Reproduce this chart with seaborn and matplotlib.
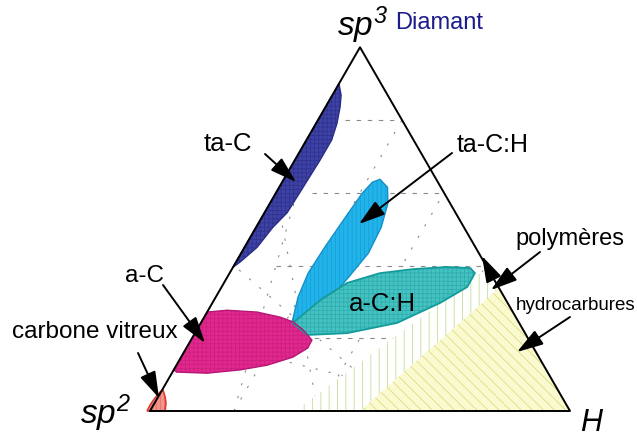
import numpy as np
import pandas as pd
import matplotlib
matplotlib.use("Agg")
import matplotlib.pyplot as plt
from matplotlib.patches import Polygon
import seaborn as sns

sns.set_theme(style="white")
plt.rcParams["font.family"] = ["Liberation Sans", "DejaVu Sans"]
plt.rcParams["text.color"] = "black"
plt.rcParams["mathtext.fontset"] = "custom"
plt.rcParams["mathtext.it"] = "Liberation Sans:italic"
plt.rcParams["mathtext.rm"] = "Liberation Sans:italic"
plt.rcParams["hatch.linewidth"] = 0.6

# compositions: (sp3 fraction, H fraction)
ta_c_sp3 = [0.90, 0.868, 0.835, 0.79, 0.745, 0.69, 0.615, 0.545, 0.505, 0.45, 0.41, 0.395]
ta_c_h = [0.00, 0.021, 0.035, 0.05, 0.06, 0.06, 0.057, 0.054, 0.04, 0.03, 0.01, 0.00]

ta_ch_sp3 = [0.637, 0.615, 0.571, 0.505, 0.434, 0.368, 0.313, 0.269, 0.245,
             0.245, 0.313, 0.379, 0.451, 0.533, 0.599, 0.629]
ta_ch_h = [0.229, 0.258, 0.281, 0.298, 0.303, 0.289, 0.275, 0.255, 0.223,
           0.216, 0.196, 0.187, 0.191, 0.199, 0.206, 0.215]

a_ch_sp3 = [0.242, 0.209, 0.214, 0.242, 0.297, 0.341, 0.379, 0.393, 0.396,
            0.390, 0.379, 0.352, 0.305, 0.258]
a_ch_h = [0.219, 0.270, 0.362, 0.467, 0.542, 0.585, 0.584, 0.566, 0.509,
          0.431, 0.358, 0.293, 0.253, 0.228]

a_c_sp3 = [0.272, 0.277, 0.272, 0.258, 0.245, 0.223, 0.195, 0.173, 0.148,
           0.126, 0.113, 0.104, 0.107, 0.113]
a_c_h = [0.0, 0.045, 0.119, 0.181, 0.218, 0.253, 0.288, 0.289, 0.266,
         0.216, 0.158, 0.084, 0.01, 0.0]

vitreux_sp3 = [0.0, 0.016, 0.036, 0.052, 0.058, 0.038, 0.022, 0.0]
vitreux_h = [-0.007, -0.008, -0.006, -0.002, 0.002, 0.017, 0.027, 0.036]

polymer_sp3 = [0.0, 0.393, 0.0]
polymer_h = [0.345, 0.607, 1.0]

hydro_sp3 = [0.0, 0.338, 0.0]
hydro_h = [0.5, 0.662, 1.0]

grid_levels = [0.2, 0.4, 0.6, 0.8]
grid_start_h = [0.0, 0.10, 0.085, 0.065]


def tern(sp3, h):
    sp3 = np.asarray(sp3, float)
    h = np.asarray(h, float)
    return np.column_stack([h + sp3 / 2, sp3 * np.sqrt(3) / 2])


def P(px, py):
    # picture pixel -> data units (layout only)
    return ((px - 150) / 420, (411 - py) / 420)


fig = plt.figure(figsize=(6.37, 4.37), dpi=100)
ax = fig.add_axes([0, 0, 1, 1])
ax.set_xlim(-150 / 420, 487 / 420)
ax.set_ylim(-26 / 420, 411 / 420)
ax.set_axis_off()

# grid
gk = dict(color="#8a8a8a", lw=0.8, zorder=1)
for lev, h0 in zip(grid_levels, grid_start_h):
    xy = tern([lev, lev], [h0, 1 - lev])
    ax.plot(xy[:, 0], xy[:, 1], ls=(0, (4, 6)), **gk)
    xy = tern([0, 1 - lev], [lev, lev])
    ax.plot(xy[:, 0], xy[:, 1], ls=(0, (2, 10)), **gk)
    xy = tern([0, lev], [1 - lev, 0])
    ax.plot(xy[:, 0], xy[:, 1], ls=(0, (2, 10)), **gk)


def region(sp3, h, face, edge, hatch, hcolor, z, elw=1.0):
    xy = tern(sp3, h)
    ax.add_patch(Polygon(xy, closed=True, facecolor=face, edgecolor="none", zorder=z))
    if hatch:
        ax.add_patch(Polygon(xy, closed=True, fill=False, hatch=hatch,
                             edgecolor=hcolor, lw=0, zorder=z + 0.1))
    ax.add_patch(Polygon(xy, closed=True, fill=False, edgecolor=edge, lw=elw, zorder=z + 0.2))


region(polymer_sp3, polymer_h, "white", "none", "||", "#c6dd98", 2, 0)
region(hydro_sp3, hydro_h, "#fafad0", "none", "\\\\\\", "#e2da80", 2.5, 0)
region(ta_c_sp3, ta_c_h, "#3e42a6", "#2b2e86", "++++", "#30338c", 3)
region(ta_ch_sp3, ta_ch_h, "#20b4ea", "#1590c8", "||||", "#1a9ed6", 3)
region(a_ch_sp3, a_ch_h, "#43c3c3", "#139b9b", "++++", "#33acac", 4, 1.3)
region(a_c_sp3, a_c_h, "#e2288e", "#b51775", "++++", "#cc1f80", 4)
region(vitreux_sp3, vitreux_h, "#f29488", "#e03a30", "||||", "#e87070", 4, 1.2)

# triangle outline
tri = tern([0, 0, 1, 0], [0, 1, 0, 0])
tri_df = pd.DataFrame({"x": tri[:, 0], "y": tri[:, 1], "o": range(4)})
sns.lineplot(data=tri_df, x="x", y="y", sort=False, estimator=None,
             color="black", lw=1.4, ax=ax, zorder=6)

# labels
ax.text(*P(337, 36), r"$sp^3$", fontsize=24, ha="left", va="baseline")
ax.text(*P(80, 424), r"$sp^2$", fontsize=24, ha="left", va="baseline")
ax.text(*P(591, 423), "H", fontsize=22, style="italic", ha="center", va="center")
ax.text(*P(395, 29), "Diamant", fontsize=17, color="#1c1c8a", ha="left", va="baseline")
ax.text(*P(228, 144), "ta-C", fontsize=18.5, ha="center", va="center")
ax.text(*P(493, 145), "ta-C:H", fontsize=18, ha="center", va="center")
ax.text(*P(145, 276), "a-C", fontsize=17.5, ha="center", va="center")
ax.text(*P(95, 332), "carbone vitreux", fontsize=17.5, ha="center", va="center")
ax.text(*P(570, 239), "polymères", fontsize=17, ha="center", va="center")
ax.text(*P(576, 305), "hydrocarbures", fontsize=13.5, ha="center", va="center")
ax.text(*P(382, 304), "a-C:H", fontsize=18.5, ha="center", va="center", zorder=7)

arrow = dict(arrowstyle="-|>,head_length=0.9,head_width=0.28", color="black",
             lw=1.4, mutation_scale=18, shrinkA=0, shrinkB=0)
for start, tip in [((265, 154), (296, 182)), ((452, 153), (359, 224)),
                   ((163, 285), (205, 343)), ((138, 353), (159, 398)),
                   ((540, 252), (491, 290)), ((570, 317), (517, 352)),
                   ((490, 272), (482, 256))]:
    ax.annotate("", xy=P(*tip), xytext=P(*start), arrowprops=arrow, zorder=8)

fig.savefig("out.png", dpi=100)
